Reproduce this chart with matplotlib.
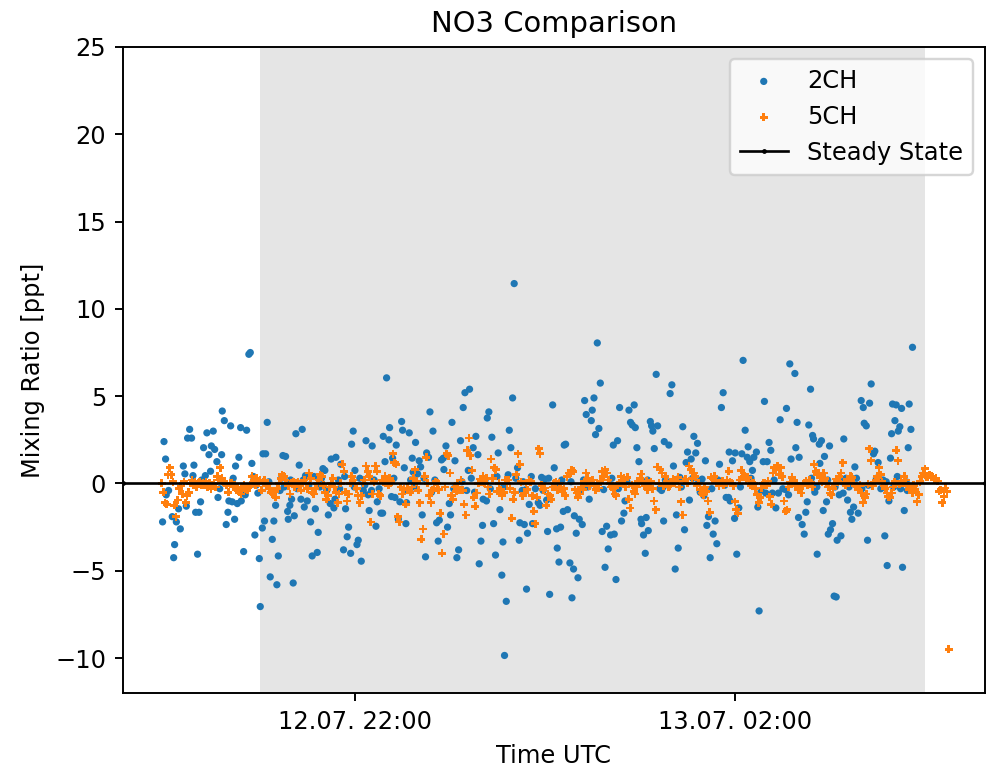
import matplotlib
matplotlib.use('Agg')
import matplotlib.pyplot as plt
import matplotlib.dates as mdates
import pandas as pd

# ── Data ────────────────────────────────────────────────────────────────────
T0 = pd.Timestamp('2020-07-12 19:30')

# 2CH: minutes after T0 and mixing ratio [ppt]
ch2_minutes = [
    28.5, 29.4, 30.4, 30.8, 32.3, 34.6, 35.5, 36.1, 37.2, 38.6,
    39.7, 41.6, 42.6, 43.5, 44.3, 45.6, 46.8, 47.7, 48.3, 49.4,
    50.6, 51.5, 52.5, 54.4, 55.5, 56.5, 57.8, 58.8, 59.3, 60.5,
    61.4, 62.8, 63.5, 65.8, 66.2, 67.5, 68.7, 69.8, 70.4, 71.5,
    72.5, 74.0, 74.6, 75.7, 76.7, 77.8, 78.2, 79.7, 80.7, 81.6,
    83.0, 83.9, 84.9, 86.8, 88.7, 89.6, 90.2, 91.5, 91.9, 92.9,
    93.6, 94.6, 96.5, 97.8, 98.8, 99.9, 100.7, 101.6, 104.5, 106.2,
    107.5, 107.9, 108.9, 110.0, 111.0, 111.7, 112.7, 114.8, 115.9, 116.7,
    118.0, 118.8, 119.9, 122.0, 123.0, 125.0, 126.2, 126.8, 129.8, 131.0,
    133.2, 134.4, 135.0, 136.7, 137.4, 138.0, 141.1, 142.8, 144.1, 145.1,
    146.0, 147.3, 147.9, 148.9, 150.0, 151.3, 152.1, 154.0, 155.3, 157.0,
    158.4, 159.0, 160.5, 160.9, 163.3, 164.1, 166.4, 167.5, 167.9, 169.0,
    170.0, 171.5, 171.9, 173.1, 173.8, 175.3, 176.1, 177.4, 178.4, 179.5,
    180.1, 181.2, 182.2, 182.6, 184.3, 186.2, 186.8, 188.3, 189.6, 190.6,
    191.5, 192.5, 194.6, 195.3, 196.5, 197.4, 199.3, 201.6, 202.6, 203.3,
    204.7, 205.8, 206.2, 207.5, 208.5, 209.6, 210.4, 211.3, 213.2, 214.4,
    215.5, 216.7, 218.4, 219.5, 221.6, 222.4, 224.7, 226.4, 227.7, 228.5,
    229.6, 230.6, 231.0, 233.1, 233.6, 234.6, 236.5, 237.6, 238.8, 240.5,
    241.6, 242.8, 243.5, 244.5, 245.6, 246.8, 247.5, 248.5, 249.6, 250.6,
    252.7, 253.8, 254.2, 257.0, 258.0, 258.4, 259.0, 260.1, 262.2, 265.8,
    266.9, 267.9, 270.0, 271.1, 271.7, 273.0, 274.9, 275.9, 277.4, 277.8,
    278.9, 279.9, 281.6, 282.2, 283.1, 284.3, 285.8, 287.1, 288.1, 288.6,
    289.8, 290.9, 291.7, 293.6, 295.1, 296.1, 298.0, 299.3, 299.9, 301.0,
    302.0, 303.1, 304.1, 305.0, 306.2, 307.1, 308.0, 309.0, 310.0, 311.5,
    313.2, 313.8, 314.9, 315.9, 317.2, 318.4, 319.9, 320.6, 323.1, 324.1,
    325.2, 326.4, 327.1, 328.1, 329.4, 330.7, 331.1, 332.3, 333.4, 334.0,
    335.3, 336.6, 337.4, 338.2, 339.1, 340.3, 341.2, 343.7, 344.7, 345.0,
    345.4, 348.3, 349.1, 350.2, 351.2, 352.3, 353.1, 354.2, 355.2, 357.1,
    358.2, 359.2, 360.1, 361.3, 362.4, 364.1, 365.3, 366.4, 368.1, 369.3,
    370.4, 371.4, 372.3, 373.3, 374.4, 376.3, 377.5, 378.6, 380.3, 381.5,
    382.6, 384.5, 386.0, 386.4, 387.0, 388.5, 389.8, 390.2, 391.2, 392.5,
    394.4, 395.2, 396.5, 397.8, 398.4, 399.4, 401.1, 402.0, 403.6, 404.5,
    405.3, 407.9, 408.7, 409.5, 410.4, 411.6, 412.7, 413.7, 415.9, 417.5,
    418.6, 422.0, 422.6, 423.9, 424.7, 425.5, 427.9, 428.5, 429.3, 430.2,
    430.6, 432.5, 433.8, 434.8, 435.7, 436.7, 437.8, 439.1, 439.7, 440.5,
    442.0, 443.3, 443.7, 444.7, 445.8, 446.6, 447.9, 449.0, 449.8, 450.4,
    451.7, 452.7, 454.0, 454.6, 455.9, 457.0, 458.4, 458.8, 461.2, 463.0,
    463.9, 465.0, 465.8, 467.9, 469.8, 471.1, 471.7, 473.0, 473.8, 475.1,
    476.1, 477.6, 478.4, 480.5, 484.7, 486.2, 487.3, 488.3, 489.0, 489.6,
    491.1, 491.9, 493.2, 494.2, 495.3, 495.9, 497.0, 499.5, 500.1, 501.2,
    502.2,
    # near-zero points, mostly hidden behind 5CH
    53.2, 64.6, 73.1, 82.2, 85.9, 87.6, 95.6, 102.7, 103.6, 105.3,
    109.4, 113.6, 117.4, 120.8, 124.1, 127.9, 128.9, 132.2, 139.6, 140.4,
    143.5, 149.6, 153.1, 156.2, 162.1, 165.3, 168.6, 174.6, 183.4, 185.2,
    187.7, 193.6, 198.4, 200.5, 212.4, 217.6, 220.6, 223.5, 225.6, 232.2,
    235.5, 239.7, 244.0, 251.6, 255.6, 256.3, 261.4, 264.0, 268.9, 272.4,
    276.7, 280.7, 286.5, 292.5, 294.4, 297.2, 312.3, 316.4, 321.8, 334.8,
    342.5, 346.1, 356.2, 363.3, 367.2, 375.4, 379.4, 383.6, 393.5, 400.2,
    406.6, 414.8, 420.3, 426.6, 438.4, 441.8, 448.6, 453.3, 457.8, 460.2,
    462.1, 466.8, 470.2, 474.3, 479.4, 482.2, 483.6, 485.6, 490.3, 492.6,
    494.7, 498.2, 498.9,
]
ch2_values = [
    -2.2, 2.4, 1.4, -0.65, -0.4, -1.9, -4.25, -3.5, -2.2, -1.45,
    -2.6, 1.0, 0.55, -1.3, 2.6, 3.1, 2.6, 0.45, 1.05, -1.65,
    -4.05, -1.65, -1.05, 2.05, 0.45, 2.9, 1.65, 0.7, 2.15, 3.0,
    1.95, 1.25, -0.8, 1.65, 4.15, 3.6, -2.35, -1.65, -1.0, 3.3,
    -1.05, -2.05, 1.0, -1.15, 1.5, 3.2, -1.0, -3.9, -0.65, 3.05,
    7.4, 7.5, 1.15, -2.95, -0.55, -4.3, -7.05, -2.55, 1.7, -2.15,
    1.7, 3.5, -5.35, -3.2, -2.15, -1.25, -5.8, -4.15, 1.6, 1.55,
    -1.6, -2.05, -1.25, -0.9, -5.7, -1.85, 2.85, 1.05, -0.9, 3.1,
    -1.35, 0.45, -1.0, -2.2, -4.15, -1.45, -3.95, -2.8, 0.85, 0.75,
    -1.8, -1.15, 1.4, -1.4, -0.9, 1.5, 1.1, -3.8, -1.45, -3.05,
    -2.5, -4.0, 2.25, 3.0, 0.75, -3.5, -3.25, -4.45, -0.4, 2.45,
    -0.65, -1.55, -0.4, 2.15, -2.45, -1.05, -1.7, -1.7, 2.7, 1.25,
    6.05, 2.5, 3.2, -0.75, 1.45, -0.8, 2.2, -2.05, -1.05, 3.55,
    3.05, 0.9, -2.3, -1.1, 2.9, 1.45, 0.65, 2.35, 0.55, 1.3,
    0.95, -1.8, -4.2, 1.75, 1.5, 4.1, 3.0, -2.25, -3.3, -2.1,
    1.35, 1.45, 0.8, 2.15, -2.5, -1.15, -1.8, 3.5, 1.3, -4.25,
    -3.8, 2.45, 4.35, 5.2, 0.75, 5.4, 2.05, 2.7, 1.65, -4.6,
    -3.3, -2.4, -0.9, -1.0, 3.75, 4.1, 2.65, -2.3, -4.1, 1.75,
    -1.5, -5.25, -3.35, -9.85, -6.75, 0.5, 3.05, 2.05, 4.9, 11.45,
    0.9, -3.25, -2.25, -2.35, -0.35, -6.05, -2.85, -1.2, -2.3, -1.1,
    -1.25, 0.35, 0.25, -0.95, -2.75, -6.35, 4.5, 0.9, -2.6, -3.7,
    -4.5, -2.5, -1.6, 2.2, 2.25, -1.5, -4.55, -6.55, -4.9, -1.85,
    -2.85, -5.4, -2.05, -2.35, 4.75, 3.95, -0.9, 3.6, 4.2, 4.9,
    2.8, 8.05, 3.15, 5.75, -2.75, -0.35, -4.8, -2.45, -3.75, -2.95,
    2.2, -2.9, -5.5, 2.45, 4.35, -2.15, -1.7, -1.0, 4.2, 3.5,
    3.35, 4.5, 3.2, 2.05, 1.25, -2.05, -2.3, -2.95, -4.0, -1.95,
    -2.7, 3.55, 3.3, 3.0, 2.0, 6.25, 3.3, -0.4, -0.2, -2.15,
    2.4, 2.2, 5.15, 5.65, 1.0, -4.9, -1.8, -3.7, 0.35, 3.25,
    -2.65, 1.2, 1.8, -0.95, 1.4, 2.7, 1.75, 2.3, -0.5, 0.25,
    -0.7, 1.3, -2.4, -1.9, -4.25, -2.9, -2.15, -3.45, 1.1, 4.35,
    5.2, -0.8, -0.8, 1.8, -1.0, 1.3, -2.0, 1.75, -4.05, -1.4,
    1.7, 7.05, 3.05, 1.5, 2.1, 1.25, 0.75, 1.5, 1.8, -1.35,
    -7.3, 1.25, 4.7, -0.55, 1.25, 2.35, 1.9, -0.55, -1.4, -0.55,
    3.65, -0.35, 4.3, -0.65, 6.85, 1.4, 6.3, 2.05, 3.5, -1.95,
    1.5, -2.35, -2.9, -1.65, -1.05, 3.35, 5.4, 2.75, 2.55, -0.5,
    -4.05, 2.25, 1.15, 2.45, -1.55, 1.55, -1.05, -2.9, 2.15, -2.65,
    -2.3, -6.45, -6.5, -3.25, -0.65, -3.0, -0.55, 2.55, -0.95, -1.65,
    -2.05, -1.35, 0.95, -1.7, 4.75, 4.35, 3.45, 3.3, -3.25, 4.6,
    5.7, 1.7, 1.85, 1.2, -3.0, -4.7, -1.0, 1.45, 2.85, 4.55,
    3.6, 4.5, 3.0, 3.25, 4.3, -4.8, -1.55, 2.05, 4.55, 3.1,
    7.8,
    # near-zero points, mostly hidden behind 5CH
    0.2, -0.3, 0.3, -0.2, 0.4, -0.1, 0.1, -0.4, 0.3, -0.2,
    0.2, -0.3, 0.2, -0.1, 0.4, -0.2, 0.3, -0.4, 0.2, -0.3,
    0.4, -0.2, 0.3, -0.1, 0.2, -0.3, 0.1, 0.3, -0.4, 0.2,
    -0.2, 0.3, -0.5, 0.2, -0.3, 0.1, -0.4, 0.3, -0.5, 0.2,
    -0.3, 0.4, -0.2, 0.3, -0.4, 0.1, 0.4, -0.3, -0.4, 0.3,
    -0.1, 0.2, 0.1, -0.4, 0.2, -0.2, 0.3, -0.3, 0.1, 0.2,
    -0.3, 0.2, -0.2, 0.3, 0.1, -0.3, 0.2, -0.1, -0.2, 0.3,
    -0.4, 0.2, -0.3, 0.1, 0.3, -0.2, 0.2, -0.2, 0.1, 0.3,
    -0.2, 0.3, -0.3, -0.1, 0.3, -0.3, 0.2, 0.1, -0.2, 0.4,
    -0.3, 0.1, -0.4,
]

# 5CH: one value per minute starting 19:58
ch5_start = '2020-07-12 19:58'
ch5_values = [
    0.0, -0.5,
    -1.1, -1.2, 0.5, 0.9, 0.5, 0.1, -1.25, -1.9, -0.95, -0.3,
    -0.15, -0.6, 0.1, -1.1, -0.7, -0.5, 0.0, 0.2, -0.1, 0.1,
    -0.2, 0.0, 0.1, -0.1, 0.0, -0.1, 0.1, -0.2, 0.0, -0.3,
    -0.1, 0.0, -0.2, 0.4, 0.2, 0.9, 0.3, 0.1, 0.0, -0.1,
    -0.5, 0.0, 0.0, -0.2, -0.1, -0.3, -0.4, -0.5, -0.6, -0.2,
    -0.1, -0.3, -0.4, -0.2, -0.1, 0.4, 0.2, -0.1, 0.3, 0.0,
    0.2, -0.4, 0.1, 0.2, -0.1, 0.0, -0.3, -0.5, -0.6, -0.45,
    -0.8, -0.3, 0.0, 0.3, 0.5, 0.4, 0.2, 0.0, -0.15, -0.6,
    0.0, 0.1, -0.2, 0.0, 0.1, -0.1, -0.4, 0.0, 0.2, 0.0,
    -0.3, 0.6, 0.3, -0.5, -0.6, -0.3, 0.0, 0.2, 0.5, 0.4,
    -0.1, -0.5, -0.9, -0.7, -0.2, 0.0, 0.3, -0.2, -0.5, -1.1,
    -0.6, 0.0, 1.1, 0.7, -0.5, -1.0, -0.6, 0.0, 0.4, 0.2,
    0.0, -0.3, -0.7, -1.1, -0.7, 0.0, 0.2, 1.0, 0.7, 0.4,
    -2.2, -0.6, 0.1, 1.0, 0.7, -0.6, -0.7, 0.2, 0.1, 0.4,
    0.2, -0.1, 0.3, 0.1, 1.7, 1.2, 1.1, -1.9, -2.2, -0.2,
    -0.6, -0.3, -1.2, -0.25, -0.35, -0.5, -0.2, 0.3, 0.8, 0.1,
    -0.4, -1.1, -3.2, -2.6, 0.4, 1.5, 0.0, -0.7, -1.1, -0.4,
    -0.25, 0.1, 0.0, -0.35, -1.7, -4.0, -2.9, -0.2, 1.7, 1.6,
    0.6, -0.7, -0.9, -0.2, -0.45, 0.0, -0.35, 0.2, -0.4, -1.2,
    -1.8, 1.9, 2.6, 1.6, 0.75, -0.8, -1.3, -0.55, 0.0, 0.25,
    0.1, 0.4, 0.0, 0.3, -0.2, -0.6, 1.4, 0.3, 0.9, 0.8,
    -0.45, 0.0, -0.35, -0.7, -0.5, 0.2, 0.0, 0.2, -0.3, -2.0,
    -0.9, -0.5, 0.5, 1.7, 1.1, 0.1, -0.7, -0.55, 0.0, -0.35,
    0.2, 0.1, -0.7, -1.6, -2.3, -0.8, 2.0, 1.7, -0.1, -0.35,
    -0.25, -1.25, -0.6, -0.7, -0.9, -0.2, 0.0, 0.1, -0.35, 0.0,
    -0.2, -0.45, -0.3, -0.7, 0.4, 0.6, 0.6, 0.75, 0.7, -0.35,
    -0.55, -0.8, -0.6, -0.2, -0.35, 0.1, 0.6, 0.3, -0.15, 0.0,
    0.2, -0.1, -0.35, 0.0, -0.25, 0.1, 0.7, 0.4, 0.8, 0.6,
    0.2, 0.0, -0.2, -0.3, -0.6, -0.7, -0.1, 0.0, 0.4, 0.1,
    0.3, -0.2, 0.35, -0.9, -1.4, -0.1, -0.45, -0.6, -0.2, 0.1,
    0.3, 0.55, 0.0, -0.15, 0.15, -0.35, 0.05, 0.1, -0.3, -1.0,
    -1.5, 0.95, 0.0, 0.8, 0.6, -0.15, 0.4, 0.1, -0.2, -0.15,
    0.0, 0.25, 0.0, 0.15, 0.35, -0.2, -1.05, -1.8, 0.15, 0.25,
    0.0, 1.0, 0.8, 0.3, 0.6, 0.4, -0.15, 0.0, -0.35, -0.55,
    -0.65, -0.2, -0.45, -1.0, -1.65, 0.35, 0.25, 0.4, 0.15, 0.05,
    -0.15, 0.05, 0.15, -0.1, 0.05, 0.2, 0.7, 0.1, 0.0, -0.15,
    -1.05, -1.5, -1.7, 0.2, 0.75, 0.35, 0.4, 0.25, 0.35, 0.15,
    -0.1, 0.05, 0.0, -0.3, -0.65, -1.1, -0.8, -0.25, 0.0, 0.05,
    -0.1, 0.15, -0.75, -1.2, 0.6, 0.9, 0.8, 1.0, 0.5, 0.9,
    0.4, -1.0, -1.6, -1.5, -0.2, 0.05, 0.35, 0.15, -0.1, 0.0,
    -0.35, -0.25, -0.55, -0.15, 0.0, 0.15, -0.1, 0.2, 0.05, -0.2,
    1.1, 0.7, 0.5, 0.6, 0.4, 0.1, 0.6, 0.3, 0.0, -0.2,
    -0.55, -0.65, -0.3, -0.05, 0.25, 0.1, 0.4, 0.6, 1.2, 0.05,
    -0.1, 0.25, 0.1, 0.4, 0.35, 0.0, -0.15, -0.2, -0.35, -0.1,
    -0.55, -1.1, -0.8, -0.6, -0.05, 2.0, 1.3, -0.15, 0.05, 0.2,
    0.4, 0.9, 0.5, 0.1, -0.15, -0.3, -0.55, -0.75, -0.8, -0.55,
    -0.2, 0.1, 1.9, 1.3, -0.05, 0.15, 0.0, 0.4, 0.2, -0.15,
    -0.35, -0.25, -0.55, -0.1, -0.35, -1.05, -0.65, 0.1, 0.4, 0.6,
    0.85, 0.4, 0.35, 0.5, 0.4, 0.35, 0.25, 0.3, 0.15, -0.45,
    -0.35, -1.1, -0.75, -0.25, -0.45, -9.5,
]

night_start = '2020-07-12 21:00'
night_end = '2020-07-13 04:00'
steady_state = 0.0

ch2_time = T0 + pd.to_timedelta(ch2_minutes, unit='min')
ch5_time = pd.date_range(ch5_start, periods=len(ch5_values), freq='min')

# ── Figure ──────────────────────────────────────────────────────────────────
DPI = 174
fig, ax = plt.subplots(figsize=(986 / DPI, 767 / DPI), dpi=DPI)
fig.subplots_adjust(left=123 / 986, right=985 / 986,
                    bottom=1 - 693 / 767, top=1 - 47 / 767)

ax.axvspan(pd.Timestamp(night_start), pd.Timestamp(night_end),
           color='grey', alpha=0.2, lw=0, zorder=0)

ax.scatter(ch2_time, ch2_values, s=9, marker='o', color='tab:blue',
           edgecolors='none', label='2CH', zorder=2)
ax.scatter(ch5_time, ch5_values, s=11, marker='P', color='tab:orange',
           edgecolors='none', label='5CH', zorder=3)
ax.axhline(steady_state, color='k', lw=1.1, marker='.', markersize=2,
           label='Steady State', zorder=4)

# x range: a small margin round the data
ax.set_xlim(T0 + pd.Timedelta(minutes=3.5), T0 + pd.Timedelta(minutes=548))
ax.set_ylim(-12, 25)
ax.set_yticks(range(-10, 26, 5))
ax.xaxis.set_major_locator(mdates.HourLocator(byhour=range(2, 24, 4)))
ax.xaxis.set_major_formatter(mdates.DateFormatter('%d.%m. %H:%M'))

ax.set_title('NO3 Comparison')
ax.set_xlabel('Time UTC')
ax.set_ylabel('Mixing Ratio [ppt]')
ax.legend(loc='upper right')

fig.savefig('out.png', dpi=DPI)
